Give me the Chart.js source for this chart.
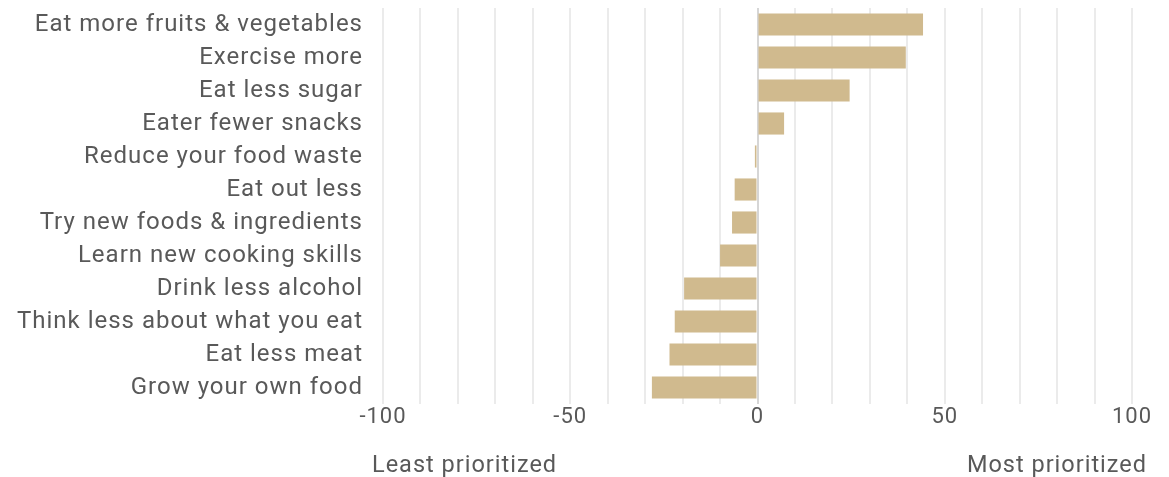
<!DOCTYPE html>
<html>
<head>
<meta charset="utf-8">
<script src="https://cdn.jsdelivr.net/npm/chart.js@4/dist/chart.umd.min.js"></script>
<style>
  html, body { margin: 0; padding: 0; background: #fff; }
  #wrap { width: 1169px; height: 477px; }
</style>
</head>
<body>
<div id="wrap"><canvas id="chart"></canvas></div>
<script>
const habits = [
    'Eat more fruits & vegetables',
    'Exercise more',
    'Eat less sugar',
    'Eater fewer snacks',
    'Reduce your food waste',
    'Eat out less',
    'Try new foods & ingredients',
    'Learn new cooking skills',
    'Drink less alcohol',
    'Think less about what you eat',
    'Eat less meat',
    'Grow your own food'
];
const netScore = [44.2, 39.6, 24.6, 7.1, -0.7, -6.1, -6.8, -10.0, -19.6, -22.1, -23.5, -28.2];
const axisEnds = ['Least prioritized', 'Most prioritized'];

const textColor = '#595959';
const fontFamily = 'Roboto, "Liberation Sans", sans-serif';

// the reference text is slightly tracked out
const spacing = {
    id: 'spacing',
    beforeUpdate(c) { c.ctx.letterSpacing = '1px'; },
    beforeDraw(c) { c.ctx.letterSpacing = '1px'; }
};

// end labels under the x axis
const endLabels = {
    id: 'endLabels',
    afterDraw(c) {
        const ctx = c.ctx;
        const x = c.scales.x;
        ctx.save();
        ctx.font = '23.5px ' + fontFamily;
        ctx.fillStyle = textColor;
        ctx.textBaseline = 'middle';
        ctx.textAlign = 'left';
        ctx.fillText(axisEnds[0], x.getPixelForValue(-100) - 11, 466);
        ctx.textAlign = 'right';
        ctx.fillText(axisEnds[1], x.getPixelForValue(100) + 15, 466);
        ctx.restore();
    }
};

const ctx = document.getElementById('chart').getContext('2d');
new Chart(ctx, {
    type: 'bar',
    data: {
        labels: habits,
        datasets: [{
            data: netScore,
            backgroundColor: '#d0ba8e',
            borderWidth: 0,
            categoryPercentage: 1,
            barPercentage: 0.67
        }]
    },
    options: {
        indexAxis: 'y',
        responsive: true,
        maintainAspectRatio: false,
        animation: false,
        layout: { padding: { top: 8, right: 37, left: 0, bottom: 0 } },
        plugins: {
            legend: { display: false },
            tooltip: { enabled: false }
        },
        scales: {
            x: {
                min: -100,
                max: 100,
                border: { display: false },
                grid: {
                    color: c => c.tick && c.tick.value === 0 ? '#d6d6d6' : '#ebebeb',
                    lineWidth: 2,
                    drawTicks: false
                },
                ticks: {
                    stepSize: 10,
                    autoSkip: false,
                    maxRotation: 0,
                    padding: 0,
                    color: textColor,
                    font: { family: fontFamily, size: 22 },
                    callback: v => (v % 50 === 0 ? String(v) : '')
                },
                afterFit: s => { s.height = 73; }
            },
            y: {
                border: { display: false },
                grid: { display: false, drawTicks: false },
                ticks: {
                    padding: 20,
                    color: textColor,
                    font: { family: fontFamily, size: 24 }
                },
                afterFit: s => {
                    s.width = 383;
                    s.paddingTop = 0;
                    s.paddingBottom = 0;
                }
            }
        }
    },
    plugins: [spacing, endLabels]
});
</script>
</body>
</html>
